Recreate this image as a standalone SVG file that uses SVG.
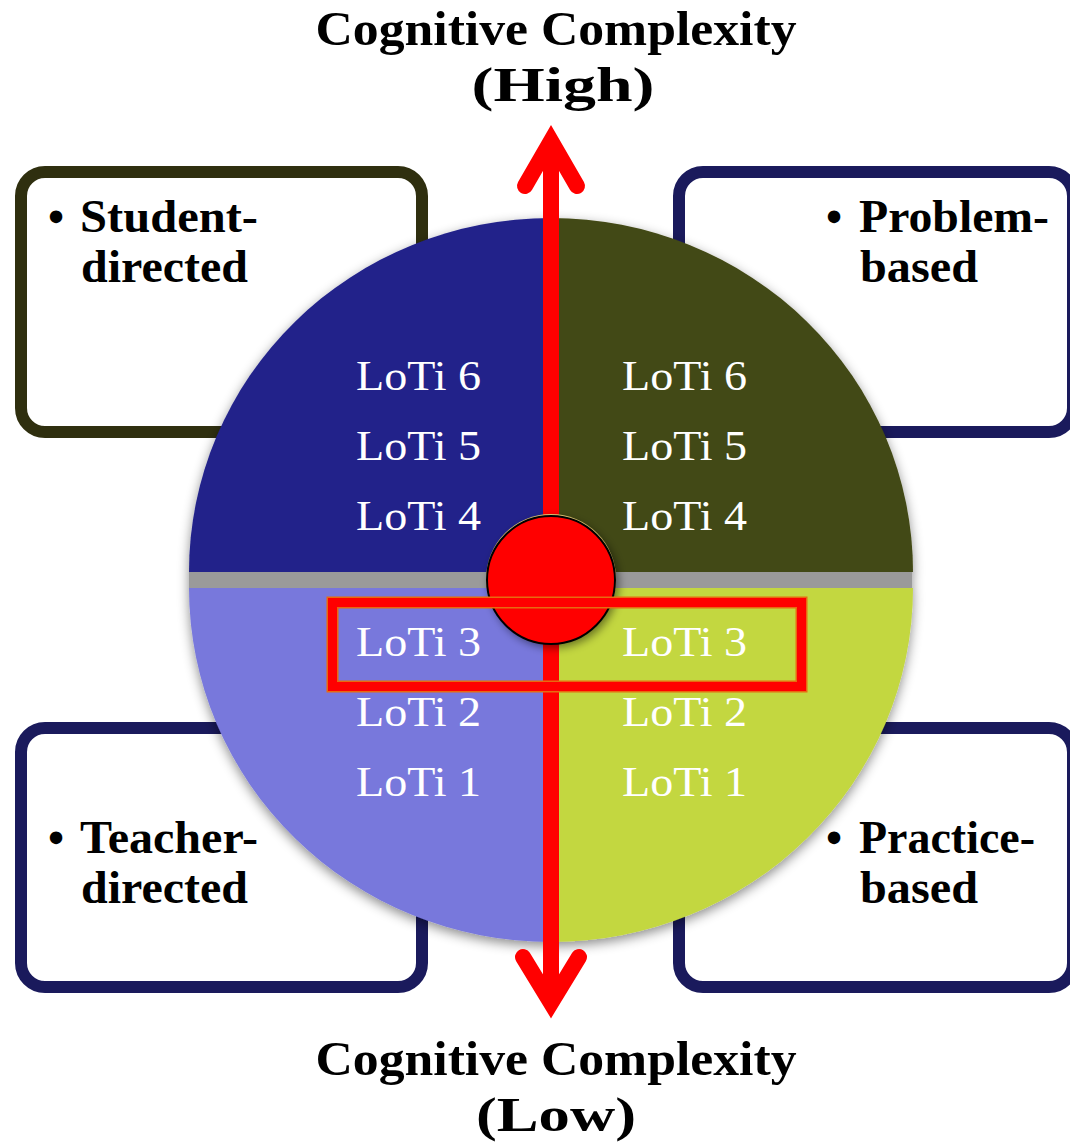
<svg xmlns="http://www.w3.org/2000/svg" width="1070" height="1144" viewBox="0 0 1070 1144">
<defs>
<style>
.title{font-family:"Liberation Serif","DejaVu Serif",serif;font-weight:bold;font-size:48px;fill:#000;}
.bul{font-family:"Liberation Serif","DejaVu Serif",serif;font-weight:bold;font-size:46px;fill:#000;}
.loti{font-family:"Liberation Serif","DejaVu Serif",serif;font-size:43px;fill:#fff;}
.box{fill:#fff;stroke-width:12;}
</style>
<filter id="sh" x="-10%" y="-10%" width="120%" height="120%">
<feDropShadow dx="0" dy="4" stdDeviation="6" flood-color="#000" flood-opacity="0.45"/>
</filter>
<filter id="csh" x="-30%" y="-30%" width="160%" height="160%">
<feDropShadow dx="3" dy="4" stdDeviation="4" flood-color="#000" flood-opacity="0.45"/>
</filter>
</defs>
<rect width="1070" height="1144" fill="#fff"/>

<g id="title-high">
<text class="title" x="556" y="45" text-anchor="middle" textLength="481" lengthAdjust="spacingAndGlyphs">Cognitive Complexity</text>
<text class="title" x="563" y="101" text-anchor="middle" textLength="183" lengthAdjust="spacingAndGlyphs">(High)</text>
</g>
<g id="title-low">
<text class="title" x="556" y="1075" text-anchor="middle" textLength="481" lengthAdjust="spacingAndGlyphs">Cognitive Complexity</text>
<text class="title" x="556" y="1131" text-anchor="middle" textLength="160" lengthAdjust="spacingAndGlyphs">(Low)</text>
</g>

<g id="box-student">
<rect class="box" x="21" y="172" width="401" height="260" rx="24" stroke="#2F2F0F"/>
<text class="bul" x="48" y="232">•</text>
<text class="bul" x="80" y="232" textLength="178" lengthAdjust="spacingAndGlyphs">Student-</text>
<text class="bul" x="81" y="282" textLength="167" lengthAdjust="spacingAndGlyphs">directed</text>
</g>
<g id="box-problem">
<rect class="box" x="679" y="172" width="394" height="260" rx="24" stroke="#1A1A5C"/>
<text class="bul" x="826" y="232">•</text>
<text class="bul" x="859" y="232" textLength="190" lengthAdjust="spacingAndGlyphs">Problem-</text>
<text class="bul" x="860" y="282" textLength="118" lengthAdjust="spacingAndGlyphs">based</text>
</g>
<g id="box-teacher">
<rect class="box" x="21" y="728" width="401" height="259" rx="24" stroke="#1A1A5C"/>
<text class="bul" x="48" y="853">•</text>
<text class="bul" x="80" y="853" textLength="178" lengthAdjust="spacingAndGlyphs">Teacher-</text>
<text class="bul" x="81" y="903" textLength="167" lengthAdjust="spacingAndGlyphs">directed</text>
</g>
<g id="box-practice">
<rect class="box" x="679" y="728" width="394" height="259" rx="24" stroke="#1A1A5C"/>
<text class="bul" x="826" y="853">•</text>
<text class="bul" x="859" y="853" textLength="176" lengthAdjust="spacingAndGlyphs">Practice-</text>
<text class="bul" x="860" y="903" textLength="118" lengthAdjust="spacingAndGlyphs">based</text>
</g>

<g id="pie" filter="url(#sh)">
<rect x="189" y="571" width="723" height="18" fill="#9A9A9A"/>
<path d="M551 572 L189 572 A362 354 0 0 1 551 218 Z" fill="#22228A"/>
<path d="M551 572 L551 218 A362 354 0 0 1 913 572 Z" fill="#424814"/>
<path d="M551 588 L189 588 A362 354 0 0 0 551 942 Z" fill="#7878DC"/>
<path d="M551 588 L551 942 A362 354 0 0 0 913 588 Z" fill="#C3D73F"/>
</g>

<g id="loti-left">
<text class="loti" x="356" y="390" textLength="125" lengthAdjust="spacingAndGlyphs">LoTi 6</text>
<text class="loti" x="356" y="460" textLength="125" lengthAdjust="spacingAndGlyphs">LoTi 5</text>
<text class="loti" x="356" y="530" textLength="125" lengthAdjust="spacingAndGlyphs">LoTi 4</text>
<text class="loti" x="356" y="656" textLength="125" lengthAdjust="spacingAndGlyphs">LoTi 3</text>
<text class="loti" x="356" y="726" textLength="125" lengthAdjust="spacingAndGlyphs">LoTi 2</text>
<text class="loti" x="356" y="796" textLength="125" lengthAdjust="spacingAndGlyphs">LoTi 1</text>
</g>
<g id="loti-right">
<text class="loti" x="622" y="390" textLength="125" lengthAdjust="spacingAndGlyphs">LoTi 6</text>
<text class="loti" x="622" y="460" textLength="125" lengthAdjust="spacingAndGlyphs">LoTi 5</text>
<text class="loti" x="622" y="530" textLength="125" lengthAdjust="spacingAndGlyphs">LoTi 4</text>
<text class="loti" x="622" y="656" textLength="125" lengthAdjust="spacingAndGlyphs">LoTi 3</text>
<text class="loti" x="622" y="726" textLength="125" lengthAdjust="spacingAndGlyphs">LoTi 2</text>
<text class="loti" x="622" y="796" textLength="125" lengthAdjust="spacingAndGlyphs">LoTi 1</text>
</g>

<g id="connectors" fill="none" stroke="#FF0000" stroke-width="16">
<line x1="551" y1="141" x2="551" y2="1003"/>
<polyline points="525,186 551,141 577,186" stroke-linecap="round" stroke-linejoin="miter" stroke-miterlimit="10"/>
<polyline points="523,957 551,1003 579,957" stroke-linecap="round" stroke-linejoin="miter" stroke-miterlimit="10"/>
</g>

<g id="center-dot">
<circle cx="551" cy="579" r="65" fill="#D8C070" filter="url(#csh)"/>
<circle cx="551" cy="580" r="64" fill="#FF0000" stroke="#000" stroke-width="2"/>
</g>

<g id="highlight">
<rect x="332.5" y="602.5" width="469" height="84" fill="none" stroke="#E86A10" stroke-width="12"/>
<rect x="332.5" y="602.5" width="469" height="84" fill="none" stroke="#FF0000" stroke-width="9"/>
</g>
</svg>
